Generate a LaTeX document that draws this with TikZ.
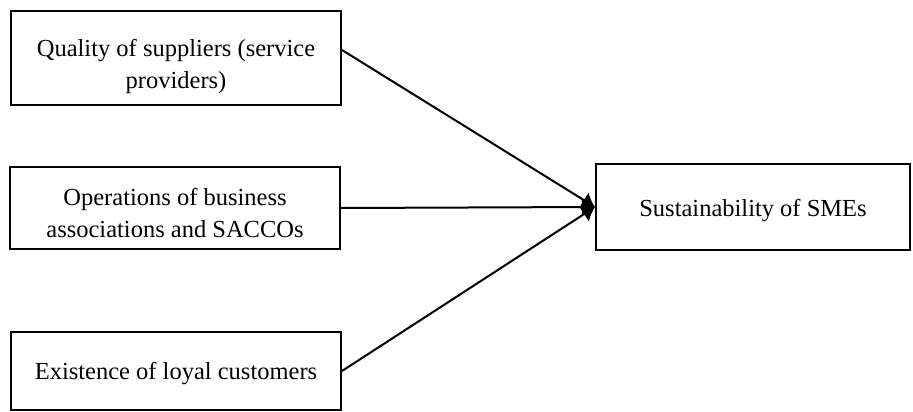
\documentclass[tikz,border=0pt]{standalone}
\usepackage{fontspec}
\setmainfont{Liberation Serif}
\usetikzlibrary{arrows.meta}
\begin{document}
\begin{tikzpicture}[x=1pt,y=-1pt,
  box/.style={draw=black,line width=2pt,rectangle,inner sep=0pt},
  txt/.style={align=center,inner sep=0pt,font=\fontsize{24.5}{32}\selectfont},
  link/.style={line width=2pt,-{Latex[length=13pt,width=18pt]}}]
\useasboundingbox (0,0) rectangle (913,412);
\node[box,minimum width=330pt,minimum height=94pt] (q) at (176,58) {};
\node[txt] (qt) at ([yshift=-8pt]q.center) {Quality of suppliers (service\\providers)};
\node[box,minimum width=330pt,minimum height=82pt] (o) at (175,208) {};
\node[txt] (ot) at ([yshift=-5pt]o.center) {Operations of business\\associations and SACCOs};
\node[box,minimum width=330pt,minimum height=78pt] (e) at (176,371) {};
\node[txt] (et) at ([yshift=-3pt]e.center) {Existence of loyal customers};
\node[box,minimum width=314pt,minimum height=86pt] (s) at (753,207) {};
\node[txt] (st) at ([yshift=-4pt]s.center) {Sustainability of SMEs};
\draw[link] ([yshift=8pt]q.east) -- (s.west);
\draw[link] (o.east) -- (s.west);
\draw[link] (e.east) -- (s.west);
\end{tikzpicture}
\end{document}
